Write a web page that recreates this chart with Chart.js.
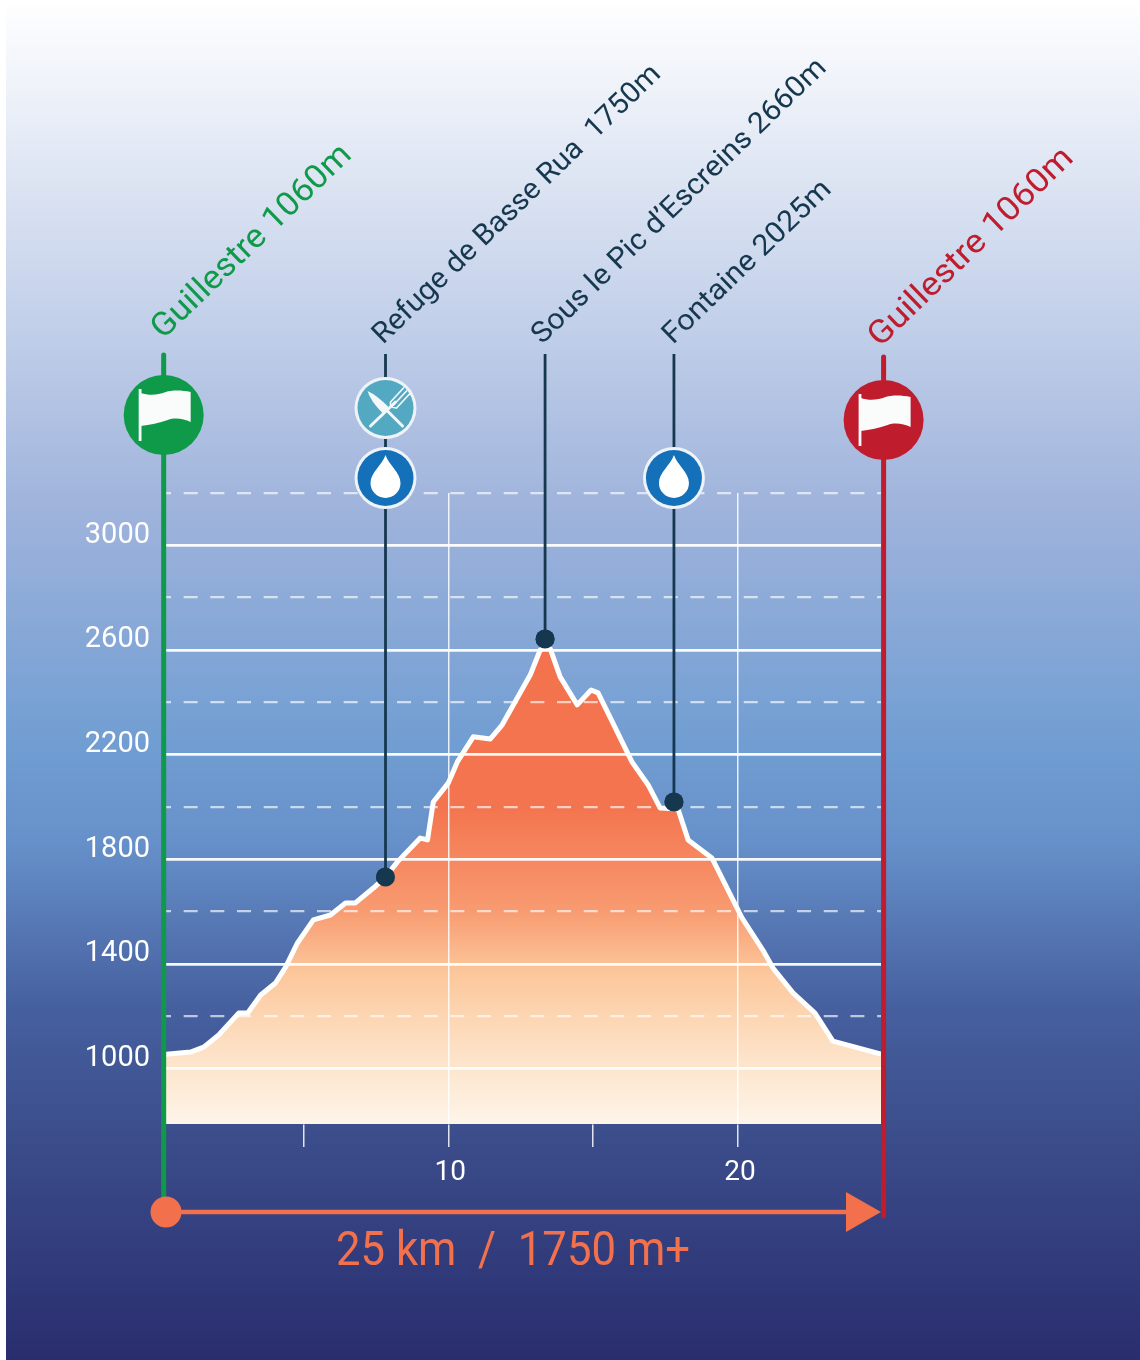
<!DOCTYPE html>
<html>
<head>
<meta charset="utf-8">
<title>Profil Guillestre</title>
<script src="https://cdn.jsdelivr.net/npm/chart.js@4/dist/chart.umd.min.js"></script>
<style>
  html, body { margin: 0; padding: 0; background: #fff; }
  #wrap { width: 1140px; height: 1360px; }
</style>
</head>
<body>
<div id="wrap"><canvas id="profile" width="1140" height="1360"></canvas></div>
<script>
// data
const distanceKm = [0.25, 1.10, 1.55, 2.07, 2.76, 3.07, 3.52, 4.03, 4.38, 4.79, 5.34, 5.93, 6.45, 6.79, 7.41, 7.83, 8.24, 9.03, 9.28, 9.48, 10.00, 10.31, 10.86, 11.45, 11.86, 12.83, 13.17, 13.34, 13.52, 13.86, 14.45, 14.93, 15.17, 16.34, 16.90, 17.31, 17.93, 18.28, 19.10, 20.14, 20.86, 21.21, 21.90, 22.66, 23.28, 24.94];
const altitudeM = [1055, 1063, 1082, 1128, 1212, 1212, 1281, 1327, 1388, 1480, 1568, 1587, 1633, 1633, 1690, 1732, 1790, 1881, 1874, 2019, 2092, 2172, 2268, 2260, 2314, 2505, 2600, 2608, 2604, 2497, 2390, 2447, 2436, 2172, 2084, 1996, 1992, 1874, 1805, 1576, 1453, 1384, 1289, 1212, 1105, 1055];

const waypointKm = [7.83, 13.34, 17.79];
const waypointAlt = [1732, 2642, 2019];
const waypointLabels = ['Refuge de Basse Rua  1750m', 'Sous le Pic d’Escreins 2660m', 'Fontaine 2025m'];
const startLabel = 'Guillestre 1060m';
const endLabel = 'Guillestre 1060m';
const poleKm = [0.17, 25.03];
const summary = '25 km  /  1750 m+';

const yTicks = [1000, 1200, 1400, 1600, 1800, 2000, 2200, 2400, 2600, 2800, 3000, 3200];
const yLabels = ['1000', '1400', '1800', '2200', '2600', '3000'];
const xTicks = [5, 10, 15, 20];
const xLabels = ['10', '20'];

const FONT = 'Roboto, "Noto Sans", sans-serif';
const ORANGE = '#f3704c';
const NAVY = '#16384f';
const GREEN = '#0f9a4a';
const RED = '#bf1d2e';

function disc(ctx, x, y, r, fill, ring) {
    if (ring) {
        ctx.fillStyle = '#eef3f8';
        ctx.beginPath();
        ctx.arc(x, y, r, 0, Math.PI * 2);
        ctx.fill();
        r -= 3;
    }
    ctx.fillStyle = fill;
    ctx.beginPath();
    ctx.arc(x, y, r, 0, Math.PI * 2);
    ctx.fill();
}

function flag(ctx, x, y) {
    ctx.save();
    ctx.translate(x, y);
    ctx.fillStyle = '#fafbfb';
    ctx.fillRect(-25, -26, 2.8, 52);
    ctx.beginPath();
    ctx.moveTo(-23, -22);
    ctx.bezierCurveTo(-14, -19, -6, -20, 2, -23);
    ctx.bezierCurveTo(8, -25, 18, -25, 27, -23);
    ctx.lineTo(27, 7);
    ctx.bezierCurveTo(20, 4, 12, 2, 4, 5);
    ctx.bezierCurveTo(-4, 8, -14, 10, -23, 11);
    ctx.closePath();
    ctx.fill();
    ctx.restore();
}

function drop(ctx, x, y) {
    ctx.fillStyle = '#fff';
    ctx.beginPath();
    ctx.moveTo(x, y - 23);
    ctx.bezierCurveTo(x + 3, y - 13, x + 15, y - 6, x + 15, y + 5);
    ctx.arc(x, y + 5, 15, 0, Math.PI);
    ctx.bezierCurveTo(x - 15, y - 6, x - 3, y - 13, x, y - 23);
    ctx.fill();
}

function cutlery(ctx, x, y) {
    ctx.save();
    ctx.translate(x, y);
    ctx.strokeStyle = '#f4f8fa';
    ctx.fillStyle = '#f4f8fa';
    ctx.lineCap = 'round';
    ctx.lineWidth = 3;
    // knife
    ctx.beginPath();
    ctx.moveTo(0, 1);
    ctx.lineTo(17, 18);
    ctx.stroke();
    ctx.beginPath();
    ctx.moveTo(-18, -17);
    ctx.quadraticCurveTo(-9, -13, 3, -1);
    ctx.lineTo(-3, 5);
    ctx.quadraticCurveTo(-15, -7, -18, -17);
    ctx.fill();
    // fork
    ctx.beginPath();
    ctx.moveTo(-15, 18);
    ctx.lineTo(10, -6);
    ctx.stroke();
    ctx.lineWidth = 1.7;
    ctx.beginPath();
    ctx.moveTo(5, -6);
    ctx.lineTo(18, -20);
    ctx.moveTo(8, -3);
    ctx.lineTo(21, -17);
    ctx.moveTo(11, 0);
    ctx.lineTo(24, -14);
    ctx.moveTo(5, -6);
    ctx.quadraticCurveTo(4, 0, 11, 0);
    ctx.stroke();
    ctx.restore();
}

// rotated caption stretched to the length it has in the picture
function slanted(ctx, text, x, y, length, size, color) {
    ctx.save();
    ctx.translate(x, y);
    ctx.rotate(-44 * Math.PI / 180);
    ctx.font = '400 ' + size + 'px ' + FONT;
    ctx.textAlign = 'left';
    ctx.textBaseline = 'alphabetic';
    ctx.fillStyle = color;
    ctx.scale(length / ctx.measureText(text).width, 1);
    ctx.fillText(text, 0, 0);
    ctx.restore();
}

const backdrop = {
    id: 'backdrop',
    beforeDraw(chart) {
        const ctx = chart.ctx;
        const g = ctx.createLinearGradient(0, 0, 0, 1360);
        g.addColorStop(0, '#ffffff');
        g.addColorStop(0.26, '#bccbe7');
        g.addColorStop(0.37, '#a0b4dc');
        g.addColorStop(0.55, '#709dd2');
        g.addColorStop(0.62, '#6690c9');
        g.addColorStop(0.74, '#46609f');
        g.addColorStop(0.84, '#3b4c8a');
        g.addColorStop(1, '#292d6e');
        ctx.fillStyle = g;
        ctx.fillRect(6, 0, 1134, 1360);
    }
};

const overlay = {
    id: 'overlay',
    afterDraw(chart) {
        const ctx = chart.ctx;
        const x = chart.scales.x;
        const y = chart.scales.y;
        ctx.save();

        // stems up from the way points
        ctx.strokeStyle = NAVY;
        ctx.lineWidth = 2.8;
        waypointKm.forEach(function (km, i) {
            ctx.beginPath();
            ctx.moveTo(x.getPixelForValue(km), y.getPixelForValue(waypointAlt[i]));
            ctx.lineTo(x.getPixelForValue(km), 354);
            ctx.stroke();
        });
        chart.getDatasetMeta(1).data.forEach(function (p) { p.draw(ctx); });

        // start and finish poles
        const xs = x.getPixelForValue(poleKm[0]);
        const xe = x.getPixelForValue(poleKm[1]);
        ctx.lineCap = 'round';
        ctx.lineWidth = 5;
        ctx.strokeStyle = GREEN;
        ctx.beginPath();
        ctx.moveTo(xs, 355);
        ctx.lineTo(xs, 1205);
        ctx.stroke();
        ctx.strokeStyle = RED;
        ctx.beginPath();
        ctx.moveTo(xe, 357);
        ctx.lineTo(xe, 1216);
        ctx.stroke();
        ctx.lineCap = 'butt';

        disc(ctx, xs, 415, 40, GREEN);
        flag(ctx, xs, 415);
        disc(ctx, xe, 420, 40, RED);
        flag(ctx, xe, 420);

        const xw0 = x.getPixelForValue(waypointKm[0]);
        const xw2 = x.getPixelForValue(waypointKm[2]);
        disc(ctx, xw0, 408, 31, '#53a9c2', true);
        cutlery(ctx, xw0, 408);
        disc(ctx, xw0, 478, 31, '#1470b8', true);
        drop(ctx, xw0, 478);
        disc(ctx, xw2, 478, 31, '#1470b8', true);
        drop(ctx, xw2, 478);

        // distance arrow
        const ya = 1212;
        const xa = x.getPixelForValue(distanceKm[0]);
        ctx.strokeStyle = ORANGE;
        ctx.lineWidth = 4.5;
        ctx.beginPath();
        ctx.moveTo(xa, ya);
        ctx.lineTo(850, ya);
        ctx.stroke();
        ctx.fillStyle = ORANGE;
        ctx.beginPath();
        ctx.arc(xa, ya, 15.5, 0, Math.PI * 2);
        ctx.fill();
        ctx.beginPath();
        ctx.moveTo(846, ya - 20);
        ctx.lineTo(881, ya);
        ctx.lineTo(846, ya + 20);
        ctx.closePath();
        ctx.fill();

        ctx.font = '400 49px ' + FONT;
        ctx.textBaseline = 'alphabetic';
        ctx.textAlign = 'left';
        ctx.save();
        ctx.translate(336, 1265);
        ctx.scale(354 / ctx.measureText(summary).width, 1);
        ctx.fillText(summary, 0, 0);
        ctx.restore();

        // captions
        slanted(ctx, startLabel, 163, 340, 264, 33, GREEN);
        slanted(ctx, waypointLabels[0], 383, 345, 388, 29, NAVY);
        slanted(ctx, waypointLabels[1], 542, 345, 397, 29, NAVY);
        slanted(ctx, waypointLabels[2], 673, 345, 222, 29, NAVY);
        slanted(ctx, endLabel, 880, 348, 271, 33, RED);
        ctx.restore();
    }
};

const ctx = document.getElementById('profile').getContext('2d');
new Chart(ctx, {
    type: 'line',
    data: {
        datasets: [
            {
                data: distanceKm.map(function (km, i) { return { x: km, y: altitudeM[i] }; }),
                borderColor: '#ffffff',
                borderWidth: 5,
                borderJoinStyle: 'round',
                pointRadius: 0,
                tension: 0,
                fill: 'start',
                backgroundColor: function (c) {
                    const area = c.chart.chartArea;
                    if (!area) return ORANGE;
                    const g = c.chart.ctx.createLinearGradient(0, area.top, 0, area.bottom);
                    g.addColorStop(0, '#f3704c');
                    g.addColorStop(0.5, '#f3754f');
                    g.addColorStop(0.66, '#f89a70');
                    g.addColorStop(0.76, '#fcc79b');
                    g.addColorStop(0.88, '#fde0c4');
                    g.addColorStop(1, '#fdf5e9');
                    return g;
                }
            },
            {
                data: waypointKm.map(function (km, i) { return { x: km, y: waypointAlt[i] }; }),
                showLine: false,
                pointRadius: 9.5,
                pointBackgroundColor: NAVY,
                pointBorderWidth: 0
            }
        ]
    },
    options: {
        responsive: false,
        animation: false,
        devicePixelRatio: 1,
        layout: { padding: { left: 0, right: 259, top: 493, bottom: 0 } },
        plugins: { legend: { display: false }, tooltip: { enabled: false }, title: { display: false } },
        scales: {
            x: {
                type: 'linear',
                min: 0.25,
                max: 24.94,
                afterFit: function (s) { s.height = 236; },
                afterBuildTicks: function (s) { s.ticks = xTicks.map(function (v) { return { value: v }; }); },
                border: { display: true, color: '#ffffff', width: 1.5 },
                grid: {
                    z: 1,
                    color: function (c) {
                        return c.tick && xLabels.includes(String(c.tick.value)) ? 'rgba(255,255,255,0.85)' : 'rgba(255,255,255,0)';
                    },
                    lineWidth: 1.5,
                    tickColor: 'rgba(255,255,255,0.85)',
                    tickWidth: 1.5,
                    tickLength: 23
                },
                ticks: {
                    color: '#ffffff',
                    padding: 9,
                    labelOffset: 2,
                    maxRotation: 0,
                    autoSkip: false,
                    font: { family: FONT, size: 28 },
                    callback: function (v) { return xLabels.includes(String(v)) ? String(v) : ''; }
                }
            },
            y: {
                type: 'linear',
                min: 788,
                max: 3200,
                afterFit: function (s) { s.width = 166; },
                afterBuildTicks: function (s) { s.ticks = yTicks.map(function (v) { return { value: v }; }); },
                border: {
                    display: false,
                    dash: function (c) {
                        return c.tick && yLabels.includes(String(c.tick.value)) ? [] : [14, 12.67];
                    },
                    dashOffset: 9
                },
                grid: {
                    z: 1,
                    drawTicks: false,
                    color: function (c) {
                        return c.tick && yLabels.includes(String(c.tick.value)) ? 'rgba(255,255,255,0.95)' : 'rgba(255,255,255,0.65)';
                    },
                    lineWidth: function (c) {
                        return c.tick && yLabels.includes(String(c.tick.value)) ? 2.7 : 2.3;
                    }
                },
                ticks: {
                    color: '#ffffff',
                    padding: 16,
                    labelOffset: -10,
                    autoSkip: false,
                    font: { family: FONT, size: 29 },
                    callback: function (v) { return yLabels.includes(String(v)) ? String(v) : ''; }
                }
            }
        }
    },
    plugins: [backdrop, overlay]
});
</script>
</body>
</html>
